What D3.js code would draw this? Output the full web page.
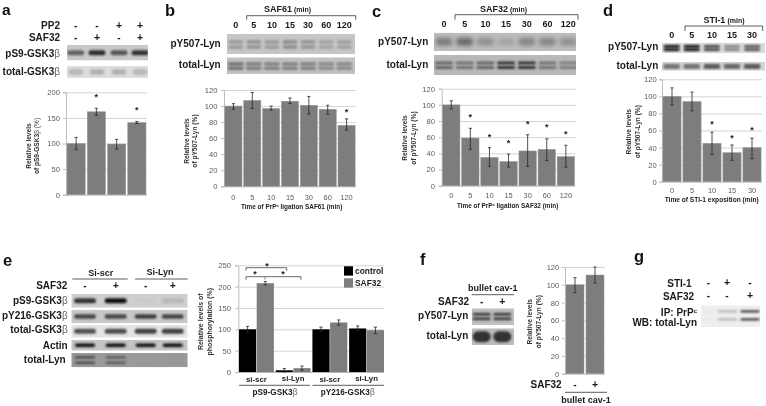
<!DOCTYPE html>
<html><head><meta charset="utf-8">
<script src="https://cdnjs.cloudflare.com/ajax/libs/d3/7.8.5/d3.min.js"></script>
<style>html,body{margin:0;padding:0;background:#fff}svg{display:block;filter:blur(.35px)}text{font-family:"Liberation Sans",Arial,sans-serif}</style>
</head><body><svg id="c" width="766" height="406"></svg>
<script>
// ---- data ----
const catA=["c1","c2","c3","c4"];
const valA=[100,162,99,141], loA=[88,155,89,139], hiA=[112,169,108,143], starA=[null,192,null,167];
const timesBC=["0","5","10","15","30","60","120"];
const valB=[100,107,97,106,101,96,76], loB=[96,97,95,103,90,90,70], hiB=[103,117,100,110,112,101,84], starB=[null,null,null,null,null,null,93];
const valC=[100,59,35,30,43,45,36], loC=[95,45,24,23,24,31,23], hiC=[105,71,47,39,63,58,50], starC=[null,86,61,53,77,73,64];
const timesD=["0","5","10","15","30"];
const valD=[100,94,45,34,40], loD=[90,83,32,25,27], hiD=[110,105,58,43,51], starD=[null,null,68,52,61];
const groupsE=["si-scr","si-Lyn","si-scr ","si-Lyn "], seriesE=["control","SAF32"];
const controlE=[100,4,100,102], controlLoE=[93,0,95,97], controlHiE=[107,8,105,108];
const safE=[208,9,116,98], safLoE=[204,4,110,90], safHiE=[212,14,122,105];
const catF=["-","+"];
const valF=[100,111], loF=[91,102], hiF=[108,120];
// blot band darkness per lane
const blotApS9=[.55,.85,.62,.82], blotAtot=[.22,.25,.25,.22];
const blotBp=[.25,.28,.25,.32,.28,.2,.22], blotBt=[.5,.42,.4,.4,.4,.35,.35];
const blotCp=[.42,.52,.28,.15,.35,.35,.28], blotCt=[.5,.42,.5,.8,.8,.42,.35];
const blotDp=[1,1,.72,.42,.65], blotDt=[.55,.55,.7,.62,.7];
const blotEp=[.8,1,.02,.12], blotEy=[.7,.7,.75,.72], blotEt=[.7,.72,.78,.78], blotEa=[1,1,1,1], blotEl=[.62,.5,.04,.05];
const blotFp=[.72,.72], blotFt=[.95,.95];
const blotG=[.02,.25,.8];
// ---- helpers ----
const svg=d3.select("#c");
const defs=svg.append("defs");
[["b1",.9],["b2",1.3],["b3",1.9]].forEach(([id,s])=>defs.append("filter").attr("id",id).attr("x","-30%").attr("y","-100%").attr("width","160%").attr("height","300%").append("feGaussianBlur").attr("stdDeviation",s));
let clipN=0;
function txt(x,y,s,o={}){
  const t=svg.append("text").attr("x",x).attr("y",y).attr("text-anchor",o.a||"end")
    .attr("font-size",o.s||10).attr("font-weight",o.w||"bold").attr("fill",o.c||"#1a1a1a").text(s);
  return t;
}
function beta(x,y,s,o={}){ // label ending in a thin grey beta
  const t=txt(x,y,s,o);
  t.append("tspan").attr("font-weight","normal").attr("fill","#666").text("β");
  return t;
}
function panel(s,x,y,size=16.5){txt(x,y,s,{a:"start",s:size,c:"#111"});}
function signs(xs,y,arr){arr.forEach((v,i)=>txt(xs[i],y+3.2,v,{a:"middle",s:v==="-"?10:10.5}));}
function hline(x1,x2,y,c="#333"){svg.append("line").attr("x1",x1).attr("x2",x2).attr("y1",y).attr("y2",y).attr("stroke",c).attr("stroke-width",.8);}
function bracket(x1,x2,y,d,c="#333"){svg.append("path").attr("d",`M${x1},${y+d}V${y}H${x2}V${y+d}`).attr("fill","none").attr("stroke",c).attr("stroke-width",.8);}
function blot(x0,x1,y0,y1,bg,lanes,vals,o={}){
  const id="cl"+(clipN++);
  defs.append("clipPath").attr("id",id).append("rect").attr("x",x0).attr("y",y0).attr("width",x1-x0).attr("height",y1-y0);
  const g=svg.append("g").attr("clip-path",`url(#${id})`);
  g.append("rect").attr("x",x0).attr("y",y0).attr("width",x1-x0).attr("height",y1-y0).attr("fill",bg);
  const rows=o.rows||[.5], h=o.h||4, w=o.w||15;
  const col=d3.scaleLinear().domain([0,1]).range([bg,o.dark||"#101010"]);
  rows.forEach(r=>g.selectAll(null).data(vals).join("rect")
    .attr("x",(d,i)=>lanes[i]-w/2).attr("width",w)
    .attr("y",y0+(y1-y0)*r-h/2).attr("height",h).attr("rx",h/2)
    .attr("fill",d=>col(d)).attr("filter",`url(#${o.f||"b1"})`));
}
function yTitle(x1,x2,cy,l1,l2,s=6.6){
  txt(x1,cy,l1,{a:"middle",s,c:"#333"}).attr("transform",`rotate(-90 ${x1} ${cy})`);
  if(l2) txt(x2,cy,l2,{a:"middle",s,c:"#333"}).attr("transform",`rotate(-90 ${x2} ${cy})`);
}
function xTitle(x,y,pre,post,s=6.4){
  const t=txt(x,y,pre,{a:"middle",s,c:"#222"});
  t.append("tspan").attr("dy",-2).attr("font-size",s*.65).text("c");
  t.append("tspan").attr("dy",2).text(post);
}
function frame(x0,x1,yb,yt,max,step,tickRight){
  const y=d3.scaleLinear().domain([0,max]).range([yb,yt]);
  const ticks=d3.range(0,max+1,step);
  const g=svg.append("g").attr("transform",`translate(${x0},0)`)
    .call(d3.axisLeft(y).tickValues(ticks).tickSize(3).tickPadding(x0-tickRight-3));
  g.select(".domain").attr("stroke","#bdbdbd");
  g.selectAll(".tick line").attr("stroke","#bdbdbd");
  g.selectAll(".tick text").attr("font-size",7.6).attr("fill","#5a5a5a").attr("font-family",'"Liberation Sans",Arial,sans-serif');
  svg.append("g").selectAll("line").data(ticks).join("line").attr("x1",x0).attr("x2",x1)
    .attr("y1",d=>y(d)+.5).attr("y2",d=>y(d)+.5).attr("stroke",d=>d===0?"#b5b5b5":"#d4d4d4").attr("stroke-width",1);
  return y;
}
function errs(xpos,y,lo,hi,cap=1.6){
  const g=svg.append("g").attr("stroke","#262626").attr("stroke-width",.8);
  lo.forEach((l,i)=>{
    const x=xpos(i);
    g.append("line").attr("x1",x).attr("x2",x).attr("y1",y(l)).attr("y2",y(hi[i]));
    g.append("line").attr("x1",x-cap).attr("x2",x+cap).attr("y1",y(l)).attr("y2",y(l));
    g.append("line").attr("x1",x-cap).attr("x2",x+cap).attr("y1",y(hi[i])).attr("y2",y(hi[i]));
  });
}
function bars(o){
  const y=frame(o.x0,o.x1,o.yb,o.yt,o.max,o.step,o.tickRight);
  const x=d3.scaleBand().domain(o.cats.map((d,i)=>i)).range([o.x0,o.x1]).paddingInner(o.pad||.09).paddingOuter((o.pad||.09)/2);
  svg.append("g").selectAll("rect").data(o.vals).join("rect")
    .attr("x",(d,i)=>x(i)).attr("width",x.bandwidth()).attr("y",d=>y(d)).attr("height",d=>y(0)-y(d))
    .attr("fill","#7d7d7d").attr("stroke","#9a9a9a").attr("stroke-width",.5);
  errs(i=>x(i)+x.bandwidth()/2,y,o.lo,o.hi);
  if(o.stars) o.stars.forEach((s,i)=>{if(s!=null)txt(x(i)+x.bandwidth()/2,y(s)+3.5,"*",{a:"middle",s:9,c:"#222"});});
  if(o.labelY) o.cats.forEach((c,i)=>txt(x(i)+x.bandwidth()/2,o.labelY,c,{a:"middle",s:7.4,w:"normal",c:"#5a5a5a"}));
  return {x,y};
}
// ---- panel a ----
panel("a",2,14.5,15.5);
const laneA=[75.7,97,119,140];
txt(60,29,"PP2");txt(60,40.5,"SAF32");
signs(laneA,25.5,["-","-","+","+"]);signs(laneA,37.5,["-","+","-","+"]);
beta(60,56.5,"pS9-GSK3");beta(60,74.7,"total-GSK3");
blot(67,148,45,60.5,"#c9c9c9",laneA,blotApS9,{w:17,h:5});
blot(67,148,66,78,"#dedede",laneA,blotAtot,{w:15,h:6,dark:"#303030",f:"b2"});
bars({x0:66,x1:147,yb:194.7,yt:92.3,max:200,step:50,tickRight:60,cats:catA,vals:valA,lo:loA,hi:hiA,stars:starA,pad:.1});
yTitle(30.7,0,146,"Relative levels","");
txt(38.7,146,"of pS9-GSK3",{a:"middle",s:6.6,c:"#333"}).attr("transform","rotate(-90 38.7 146)").append("tspan").attr("font-weight","normal").text("β (%)");
// ---- panel b ----
panel("b",165,16);
const laneB=timesBC.map((d,i)=>235.7+i*18.1);
txt(311,12,"SAF61",{s:9}).append("tspan").attr("font-size",7).attr("dx",2).text("(min)");
bracket(246.7,355.7,15.7,4);
timesBC.forEach((d,i)=>txt(laneB[i],28,d,{a:"middle",s:9}));
txt(220.7,47,"pY507-Lyn");txt(220.7,68,"total-Lyn");
blot(227,355,34,54,"#c6c6c6",laneB,blotBp,{w:15,h:4,rows:[.4,.65],f:"b2",dark:"#202020"});
blot(227,355,57.3,74,"#c2c2c2",laneB,blotBt,{w:16,h:3.5,rows:[.4,.65],dark:"#202020"});
bars({x0:224,x1:356,yb:186.3,yt:90,max:120,step:20,tickRight:217.5,cats:timesBC,vals:valB,lo:loB,hi:hiB,stars:starB,labelY:200});
yTitle(189,197,141,"Relative levels","of pY507-Lyn (%)");
xTitle(291.7,209,"Time of PrP"," ligation SAF61 (min)");
// ---- panel c ----
panel("c",372,17);
const laneC=timesBC.map((d,i)=>444+i*20.7);
txt(527,11.5,"SAF32",{s:9}).append("tspan").attr("font-size",7).attr("dx",2).text("(min)");
bracket(455,578,14.7,5);
timesBC.forEach((d,i)=>txt(laneC[i],27,d,{a:"middle",s:9}));
txt(428.3,44.5,"pY507-Lyn");txt(428.3,68,"total-Lyn");
blot(434,576,32.7,51,"#bdbdbd",laneC,blotCp,{w:17,h:8,f:"b3",dark:"#202020"});
blot(434,576,55,75,"#b8b8b8",laneC,blotCt,{w:18,h:3,rows:[.4,.62],dark:"#101010"});
bars({x0:441.7,x1:575.4,yb:185.7,yt:88.7,max:120,step:20,tickRight:435,cats:timesBC,vals:valC,lo:loC,hi:hiC,stars:starC,labelY:198});
yTitle(406.7,415.7,138,"Relative levels","of pY507-Lyn (%)");
xTitle(507.7,208,"Time of PrP"," ligation SAF32 (min)");
// ---- panel d ----
panel("d",603,16);
const laneD=timesD.map((d,i)=>671.7+i*20.1);
txt(745,22.7,"STI-1",{s:9}).attr("x",744.5).append("tspan").attr("font-size",7).attr("dx",2).text("(min)");
bracket(685,762.7,26,5);
timesD.forEach((d,i)=>txt(laneD[i],38,d,{a:"middle",s:9}));
txt(658.3,50,"pY507-Lyn");txt(658.3,69.3,"total-Lyn");
blot(662,765,42.7,53.3,"#dcdcdc",laneD,blotDp,{w:16,h:2.8,rows:[.35,.65],dark:"#0a0a0a"});
blot(662,765,62,70.7,"#d4d4d4",laneD,blotDt,{w:16,h:2.6,rows:[.4,.6],dark:"#0a0a0a"});
bars({x0:662,x1:762,yb:181.7,yt:79.3,max:120,step:20,tickRight:656.7,cats:timesD,vals:valD,lo:loD,hi:hiD,stars:starD,labelY:192.5});
yTitle(631,640,131.7,"Relative levels","of pY507-Lyn (%)");
txt(711.7,202,"Time of STI-1 exposition (min)",{a:"middle",s:6.6,c:"#222"});
// ---- panel e ----
panel("e",3,266);
const laneE=[85,115.7,145.7,172.7];
txt(100.7,276,"Si-scr",{a:"middle",s:9});txt(160,275,"Si-Lyn",{a:"middle",s:9});
hline(72.3,127.7,279);hline(135,187.7,279);
txt(67.3,289.3,"SAF32");signs(laneE,286,["-","+","-","+"]);
beta(67.7,303.7,"pS9-GSK3");beta(67.7,319,"pY216-GSK3");beta(67.7,333.3,"total-GSK3");
txt(67.7,349.3,"Actin");txt(65.7,363.3,"total-Lyn");
blot(71.3,187.7,293.7,307.7,"#cfcfcf",laneE,blotEp,{w:22,h:5});
blot(71.3,187.7,309.7,323.3,"#c8c8c8",laneE,blotEy,{w:22,h:4.5});
blot(71.3,187.7,325,337.7,"#e4e4e4",laneE,blotEt,{w:22,h:5});
blot(71.3,187.7,340,350.7,"#c4c4c4",laneE,blotEa,{w:20,h:3.5});
blot(71.3,187.7,353,367.3,"#9a9a9a",laneE,blotEl,{w:20,h:2.4,rows:[.3,.68],dark:"#1c1c1c"});
const yE=frame(238.3,384,372,265.3,250,50,231);
const xE=d3.scaleBand().domain(groupsE).range([239,384]).paddingInner(.05).paddingOuter(0);
const subE=d3.scaleBand().domain(seriesE).range([0,xE.bandwidth()]).paddingInner(.03);
const colorE=d3.scaleOrdinal().domain(seriesE).range(["#000","#7d7d7d"]);
[[controlE,controlLoE,controlHiE],[safE,safLoE,safHiE]].forEach(([v,l,h],k)=>{
  const s=seriesE[k];
  svg.append("g").selectAll("rect").data(v).join("rect")
    .attr("x",(d,i)=>xE(groupsE[i])+subE(s)).attr("width",subE.bandwidth())
    .attr("y",d=>yE(d)).attr("height",d=>yE(0)-yE(d)).attr("fill",colorE(s));
  errs(i=>xE(groupsE[i])+subE(s)+subE.bandwidth()/2,yE,l,h);
});
bracket(246,286.7,267.7,3,"#444");bracket(246,301,276.7,3,"#444");
svg.append("line").attr("x1",265).attr("x2",265).attr("y1",276.7).attr("y2",279.7).attr("stroke","#888");
txt(267,268.5,"*",{a:"middle",s:9});txt(255,277,"*",{a:"middle",s:9});txt(283,277,"*",{a:"middle",s:9});
[["control",266.3],["SAF32",278.3]].forEach(([s,y])=>{
  svg.append("rect").attr("x",344).attr("y",y).attr("width",9).attr("height",9.3).attr("fill",colorE(s));
  txt(355,y+7.6,s,{a:"start",s:8.4});
});
groupsE.forEach((g,i)=>txt(xE(g)+xE.bandwidth()/2,i%2?380.7:381.7,g.trim(),{a:"middle",s:7.8}));
hline(239,310,385.3);hline(312.5,384,385.3);
beta(275,395,"pS9-GSK3",{a:"middle",s:8.2});beta(347.7,395,"pY216-GSK3",{a:"middle",s:8.2});
yTitle(203.3,212.3,321.7,"Relative levels of","phosphorylation (%)",7);
// ---- panel f ----
panel("f",420,265);
const laneF=[481.7,502.3];
txt(492.7,290.7,"bullet cav-1",{a:"middle",s:9});hline(471.7,514,294.7);
txt(469,305.3,"SAF32");signs(laneF,302,["-","+"]);
txt(468.3,319,"pY507-Lyn");txt(468.3,339.3,"total-Lyn");
blot(471.7,514,308.3,325,"#c0c0c0",laneF,blotFp,{w:18,h:3,rows:[.35,.62],dark:"#111"});
blot(471.7,514,328.3,345,"#bcbcbc",laneF,blotFt,{w:18,h:11,dark:"#2a2a2a"});
bars({x0:565,x1:605,yb:373.7,yt:267,max:120,step:20,tickRight:559.3,cats:catF,vals:valF,lo:loF,hi:hiF,pad:.1});
yTitle(531.7,540.7,321.7,"Relative levels","of pY507-Lyn (%)");
txt(561.7,388.3,"SAF32");signs([575,595],385,catF);hline(565,607,392.3);
txt(586,402.5,"bullet cav-1",{a:"middle",s:9});
// ---- panel g ----
panel("g",634,262);
const laneG=[712,727.7,750];
txt(691.7,286.7,"STI-1");txt(694,299.7,"SAF32");
signs([708.3,727,750],283,["-","+","-"]);signs([708.3,727,750],296,["-","-","+"]);
const ipT=txt(697,315.7,"IP: PrP");ipT.append("tspan").attr("dy",-2.5).attr("font-size",6).text("c");
txt(697,326,"WB: total-Lyn");
blot(701,760.3,305.3,327,"#eeeeee",laneG,blotG,{w:19,h:2.4,rows:[.28,.65],dark:"#0e0e0e"});
</script></body></html>
